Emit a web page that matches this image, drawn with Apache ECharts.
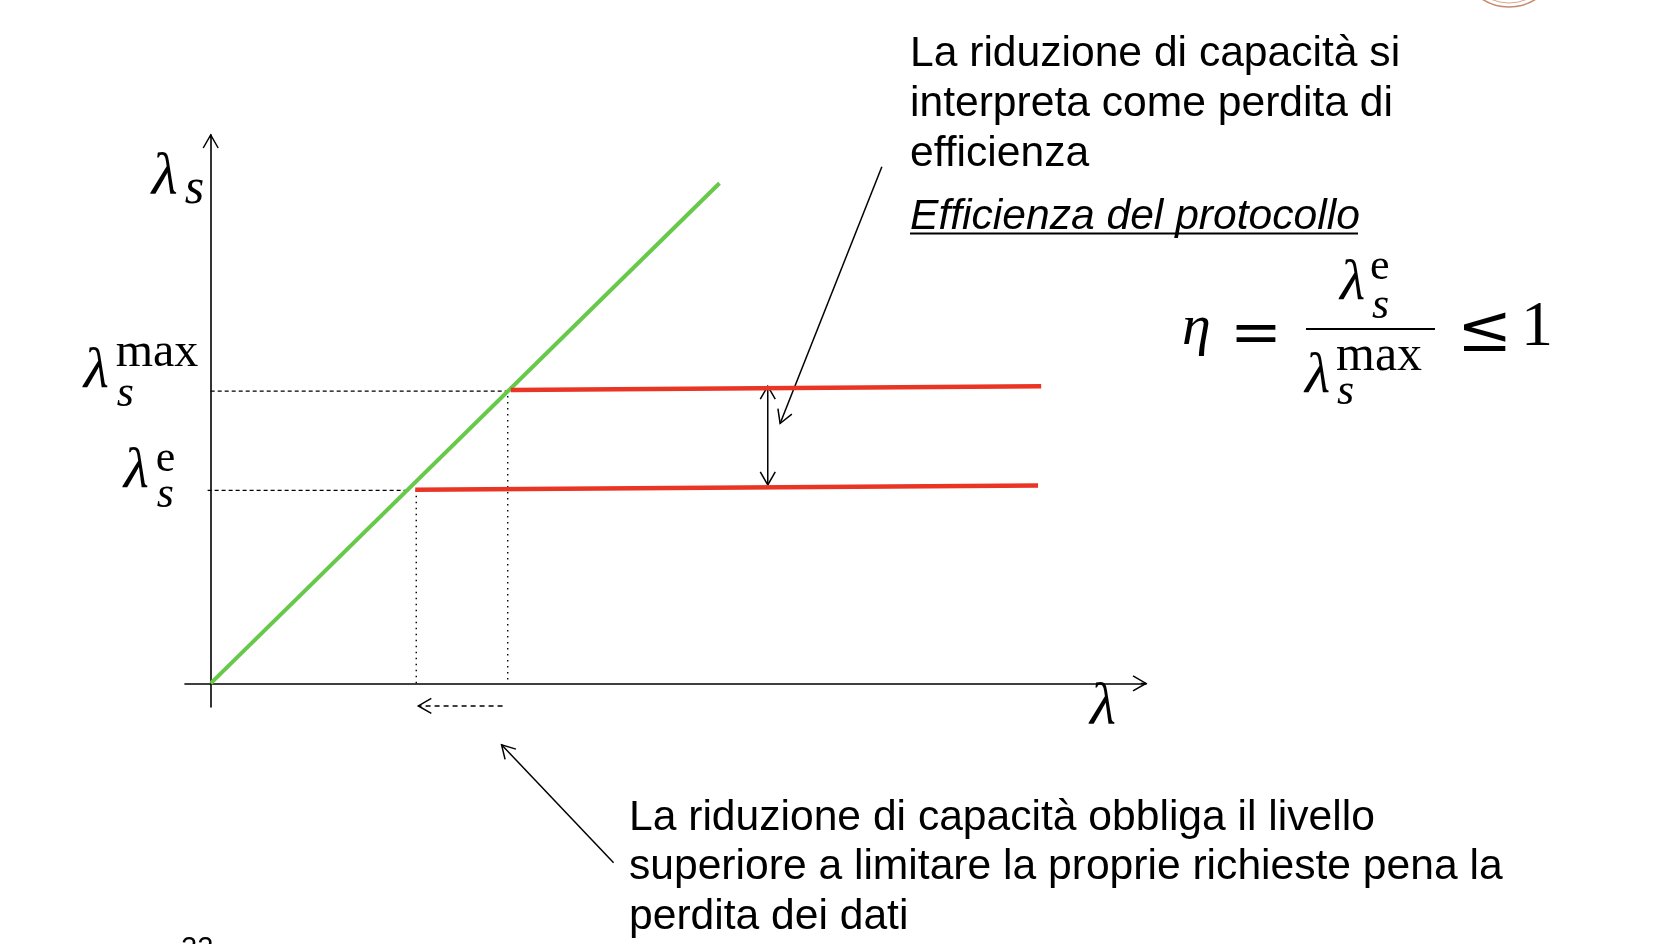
<!DOCTYPE html>
<html><head><meta charset="utf-8">
<script src="https://cdn.jsdelivr.net/npm/echarts@6/dist/echarts.min.js"></script>
<style>html,body{margin:0;padding:0;background:#fff}#c{width:1674px;height:944px}</style>
</head><body><div id="c"></div>
<script>
// ---- data (λ on x, λs on y, arbitrary units) ----
const xRange = [-2.5, 91];
const yRange = [-4.3, 100];
const greenLine = [[0, 0], [49.5, 91.2]];          // λs = λ
const redUpper = [[29.2, 53.5], [80.8, 54.2]];      // λs max
const redLower = [[19.9, 35.3], [80.5, 36.1]];      // λs e
const yTickValues = [53.3, 35.2];
const yTickSup = ['max', 'e'];
const dashedGuides = [[0, 53.3, 28.9, 53.3], [-0.3, 35.2, 19.2, 35.2]];
const dottedGuides = [[28.9, 53.5, 28.9, 0], [20.0, 35.3, 20.0, 0]];
// [x1,y1,x2,y2,heads(1=end,2=both),dashed]
const arrows = [
  [90.5, 0, 91, 0, 1, 0],
  [0, 99.5, 0, 100, 1, 0],
  [28.4, -4.1, 20.2, -4.1, 1, 1],
  [54.2, 54.2, 54.2, 36.2, 2, 0],
  [65.3, 94.2, 55.4, 47.4, 1, 0],
  [39.2, -32.7, 28.3, -11.2, 1, 0]
];
const topText = ['La riduzione di capacità si', 'interpreta come perdita di', 'efficienza'];
const topTitle = 'Efficienza del protocollo';
const bottomText = ['La riduzione di capacità obbliga il livello', 'superiore a limitare la proprie richieste pena la', 'perdita dei dati'];

// ---- rendering ----
const chart = echarts.init(document.getElementById('c'), null, {renderer: 'canvas'});
const SERIF = '"Liberation Serif","DejaVu Serif",serif';
const SANS = '"Liberation Sans",Arial,sans-serif';
const SYM = '"DejaVu Serif",serif';

function head(tip, from) {
  const dx = tip[0] - from[0], dy = tip[1] - from[1];
  const len = Math.sqrt(dx * dx + dy * dy) || 1;
  const ux = dx / len, uy = dy / len, nx = -uy, ny = ux;
  const L = 13, W = 7.5;
  return {type: 'polyline', shape: {points: [
    [tip[0] - L * ux + W * nx, tip[1] - L * uy + W * ny], tip,
    [tip[0] - L * ux - W * nx, tip[1] - L * uy - W * ny]]},
    style: {stroke: '#000', lineWidth: 1.5, fill: null}};
}
function segRender(dash, width) {
  return function (params, api) {
    const a = api.coord([api.value(0), api.value(1)]);
    const b = api.coord([api.value(2), api.value(3)]);
    const heads = api.value(4) || 0;
    const d = dash || (api.value(5) ? [5, 4] : null);
    const ch = [{type: 'line', shape: {x1: a[0], y1: a[1], x2: b[0], y2: b[1]},
      style: {stroke: '#000', lineWidth: width, lineDash: d}}];
    if (heads >= 1) ch.push(head(b, a));
    if (heads >= 2) ch.push(head(a, b));
    return {type: 'group', children: ch};
  };
}
const axisCommon = {
  type: 'value', axisTick: {show: false}, axisLabel: {show: false}, splitLine: {show: false},
  axisLine: {show: true, onZero: true, lineStyle: {color: '#000', width: 1.6}}
};
chart.setOption({
  animation: false,
  backgroundColor: '#fff',
  grid: {left: 185, right: 528, top: 135, bottom: 237, containLabel: false},
  xAxis: Object.assign({min: xRange[0], max: xRange[1]}, axisCommon),
  yAxis: Object.assign({min: yRange[0], max: yRange[1]}, axisCommon),
  series: [
    {type: 'custom', name: 'dashed', data: dashedGuides, renderItem: segRender([4, 3], 1.2), clip: false, z: 1},
    {type: 'custom', name: 'dotted', data: dottedGuides, renderItem: segRender([1.5, 4.5], 1.4), clip: false, z: 1},
    {type: 'custom', name: 'arrows', data: arrows, renderItem: segRender(null, 1.5), clip: false, z: 3},
    {type: 'line', name: 'λs', data: greenLine, showSymbol: false, lineStyle: {color: '#67c94a', width: 4}, z: 4},
    {type: 'line', name: 'λs max', data: redUpper, showSymbol: false, lineStyle: {color: '#ea3424', width: 4.5}, z: 4},
    {type: 'line', name: 'λs e', data: redLower, showSymbol: false, lineStyle: {color: '#ea3424', width: 4.5}, z: 4}
  ]
});

function T(text, x, y, size, family, italic) {
  return {type: 'text', x: x, y: y, silent: true, z: 10, style: {
    text: text, fontSize: size, fontFamily: family, fontStyle: italic ? 'italic' : 'normal',
    fill: '#000', align: 'left', verticalAlign: 'middle'}};
}
const g = [];
const px = (p) => chart.convertToPixel({xAxisIndex: 0, yAxisIndex: 0}, p);
// y tick labels λs^max, λs^e
const tickDx = [-127, -87];
const supDy = [-38, -31];
const subDy = [3, 5.5];
yTickValues.forEach((v, i) => {
  const p = px([0, v]);
  g.push(T('λ', p[0] + tickDx[i], p[1] - 19, 58, SERIF, true));
  g.push(T(yTickSup[i], p[0] + tickDx[i] + 32, p[1] + supDy[i], i === 0 ? 48 : 44, SERIF, false));
  g.push(T('s', p[0] + tickDx[i] + 33, p[1] + subDy[i], 44, SERIF, true));
});
// axis names
const yTop = px([0, yRange[1]]);
g.push(T('λ', yTop[0] - 59, yTop[1] + 43, 60, SERIF, true));
g.push(T('s', yTop[0] - 26, yTop[1] + 55, 50, SERIF, true));
const xEnd = px([xRange[1], 0]);
g.push(T('λ', xEnd[0] - 56, xEnd[1] + 25, 60, SERIF, true));
// formula η = λs^e / λs^max ≤ 1
g.push(T('η', 1182, 329, 58, SERIF, true));
g.push(T('=', 1230, 337, 62, SYM, false));
g.push({type: 'line', silent: true, shape: {x1: 1306, y1: 329, x2: 1435, y2: 329}, style: {stroke: '#000', lineWidth: 2}});
g.push(T('λ', 1340, 283.5, 58, SERIF, true));
g.push(T('e', 1370, 267.5, 44, SERIF, false));
g.push(T('s', 1372, 306.5, 44, SERIF, true));
g.push(T('λ', 1305, 376.5, 58, SERIF, true));
g.push(T('max', 1336, 357, 50, SERIF, false));
g.push(T('s', 1337, 392, 44, SERIF, true));
g.push(T('≤', 1457, 334, 66, SYM, false));
g.push(T('1', 1521, 328, 64, SERIF, false));
// paragraphs
g.push({type: 'text', x: 910, y: 29, silent: true, style: {text: topText.join('\n'), fontSize: 42.6, fontFamily: SANS, fill: '#000', lineHeight: 50, align: 'left', verticalAlign: 'top'}});
g.push(T(topTitle, 910, 217.5, 42.6, SANS, true));
g.push({type: 'line', silent: true, shape: {x1: 910, y1: 233.5, x2: 1358, y2: 233.5}, style: {stroke: '#000', lineWidth: 2}});
g.push({type: 'text', x: 629, y: 793, silent: true, style: {text: bottomText.join('\n'), fontSize: 42.6, fontFamily: SANS, fill: '#000', lineHeight: 49.5, align: 'left', verticalAlign: 'top'}});
// slide number (cut off) and seal fragment
g.push(T('22', 181, 949, 29, SANS, false));
g.push({type: 'circle', silent: true, shape: {cx: 1509, cy: -42, r: 49}, style: {fill: null, stroke: '#c98a6e', lineWidth: 1.6}});
g.push({type: 'circle', silent: true, shape: {cx: 1509, cy: -42, r: 45}, style: {fill: null, stroke: '#d8a890', lineWidth: 1}});
chart.setOption({graphic: {elements: g}});
</script></body></html>
